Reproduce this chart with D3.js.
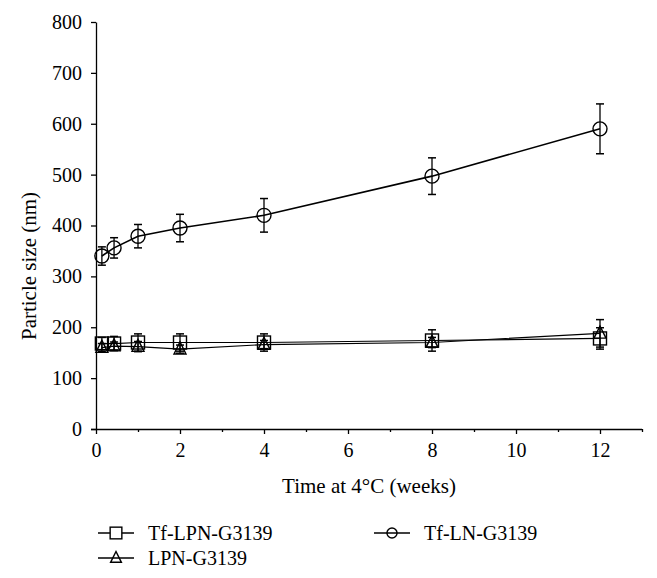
<!DOCTYPE html>
<html>
<head>
<meta charset="utf-8">
<script src="https://cdn.jsdelivr.net/npm/d3@7"></script>
<style>
  html, body { margin: 0; padding: 0; background: #fff; }
  svg { display: block; }
  text { font-family: "Liberation Serif", "DejaVu Serif", serif; fill: #000; }
</style>
</head>
<body>
<div id="chart"></div>
<script>
// ---- data ----
const weeks = [0.14, 0.43, 1, 2, 4, 8, 12];

const tfLPN = [168, 168, 170, 170, 170, 174, 178];
const tfLPNErr = [12, 14, 17, 17, 17, 21, 21];

const lpn = [160, 163, 162, 157, 166, 170, 188];
const lpnErr = [8, 8, 10, 8, 8, 10, 27];

const tfLN = [340, 356, 379, 395, 420, 497, 590];
const tfLNErr = [18, 20, 23, 27, 33, 36, 49];

const xTicks = [0, 2, 4, 6, 8, 10, 12];
const xMinorTicks = [1, 3, 5, 7, 9, 11, 13];
const yTicks = [0, 100, 200, 300, 400, 500, 600, 700, 800];

const seriesNames = ["Tf-LPN-G3139", "LPN-G3139", "Tf-LN-G3139"];
const xTitle = "Time at 4\u00B0C (weeks)";
const yTitle = "Particle size (nm)";

// ---- layout ----
const W = 657, H = 578;
const svg = d3.select("#chart").append("svg").attr("width", W).attr("height", H);

const x = d3.scaleLinear().domain([0, 13]).range([96, 642]);
const y = d3.scaleLinear().domain([0, 800]).range([429, 22]);

const FS = 20;
const FT = 21;

// x axis minor ticks
svg.append("g")
  .attr("transform", `translate(0,${y(0)})`)
  .call(d3.axisBottom(x).tickValues(xMinorTicks).tickSize(3).tickFormat(""))
  .call(g => g.select(".domain").remove())
  .selectAll("line").attr("stroke", "#000").attr("stroke-width", 1.3);

// x axis major
const gx = svg.append("g")
  .attr("transform", `translate(0,${y(0)})`)
  .call(d3.axisBottom(x).tickValues(xTicks).tickSize(5).tickSizeOuter(0).tickPadding(9).tickFormat(d3.format("d")));
gx.select(".domain").attr("stroke", "#000").attr("stroke-width", 1.3)
  .attr("d", `M${x(0) - 5},0.5H${x(13)}`);
gx.selectAll("line").attr("stroke", "#000").attr("stroke-width", 1.3);
gx.selectAll("text").style("font-size", FS + "px").style("font-family", "Liberation Serif");

// y axis
const gy = svg.append("g")
  .attr("transform", `translate(${x(0)},0)`)
  .call(d3.axisLeft(y).tickValues(yTicks).tickSize(5).tickSizeOuter(0).tickPadding(9).tickFormat(d3.format("d")));
gy.select(".domain").attr("stroke", "#000").attr("stroke-width", 1.3);
gy.selectAll("line").attr("stroke", "#000").attr("stroke-width", 1.3);
gy.selectAll("text").style("font-size", FS + "px").style("font-family", "Liberation Serif");

// axis titles
svg.append("text")
  .attr("x", (x(0) + x(13)) / 2).attr("y", 493)
  .attr("text-anchor", "middle")
  .style("font-size", FT + "px")
  .text(xTitle);

svg.append("text")
  .attr("transform", `translate(36,${266}) rotate(-90)`)
  .attr("text-anchor", "middle")
  .style("font-size", FT + "px")
  .text(yTitle);

// ---- series ----
const line = d3.line().x(d => x(d[0])).y(d => y(d[1]));

function drawSeries(vals, errs, shape, lw) {
  const pts = weeks.map((w, i) => [w, vals[i], errs[i]]);
  const g = svg.append("g");
  g.append("path").datum(pts).attr("d", line)
    .attr("fill", "none").attr("stroke", "#000").attr("stroke-width", lw);
  // error bars
  const eb = g.selectAll(".eb").data(pts).enter().append("g");
  eb.append("line")
    .attr("x1", d => x(d[0])).attr("x2", d => x(d[0]))
    .attr("y1", d => y(d[1] - d[2])).attr("y2", d => y(d[1] + d[2]))
    .attr("stroke", "#000").attr("stroke-width", 1.3);
  [-1, 1].forEach(s => {
    eb.append("line")
      .attr("x1", d => x(d[0]) - 4).attr("x2", d => x(d[0]) + 4)
      .attr("y1", d => y(d[1] + s * d[2])).attr("y2", d => y(d[1] + s * d[2]))
      .attr("stroke", "#000").attr("stroke-width", 1.5);
  });
  // markers
  pts.forEach(d => drawMarker(g, shape, x(d[0]), y(d[1]), 1));
}

function drawMarker(g, shape, cx, cy, k, fill) {
  const f = fill || "none";
  if (shape === "square") {
    const s = 13 * k;
    g.append("rect").attr("x", cx - s / 2).attr("y", cy - s / 2)
      .attr("width", s).attr("height", s)
      .attr("fill", f).attr("stroke", "#000").attr("stroke-width", 1.4);
  } else if (shape === "triangle") {
    const w = 12 * k, h = 12 * k;
    g.append("path")
      .attr("d", `M${cx},${cy - h * 0.6}L${cx + w / 2},${cy + h * 0.4}L${cx - w / 2},${cy + h * 0.4}Z`)
      .attr("fill", f).attr("stroke", "#000").attr("stroke-width", 1.4);
  } else {
    g.append("circle").attr("cx", cx).attr("cy", cy).attr("r", 7 * k)
      .attr("fill", f).attr("stroke", "#000").attr("stroke-width", 1.4);
  }
}

drawSeries(tfLPN, tfLPNErr, "square", 1.2);
drawSeries(lpn, lpnErr, "triangle", 1.2);
drawSeries(tfLN, tfLNErr, "circle", 1.6);

// ---- legend ----
const legend = [
  { name: seriesNames[0], shape: "square", lx: 98, ly: 533, fill: "#fff" },
  { name: seriesNames[2], shape: "circle", lx: 374, ly: 533, fill: "none" },
  { name: seriesNames[1], shape: "triangle", lx: 98, ly: 558, fill: "none" }
];
legend.forEach(L => {
  const g = svg.append("g");
  g.append("line").attr("x1", L.lx).attr("x2", L.lx + 36)
    .attr("y1", L.ly).attr("y2", L.ly)
    .attr("stroke", "#000").attr("stroke-width", 1.3);
  drawMarker(g, L.shape, L.lx + 18, L.ly, L.shape === "circle" ? 0.72 : 0.9, L.fill);
  g.append("text").attr("x", L.lx + 50).attr("y", L.ly + 7)
    .style("font-size", FS + "px").text(L.name);
});
</script>
</body>
</html>
